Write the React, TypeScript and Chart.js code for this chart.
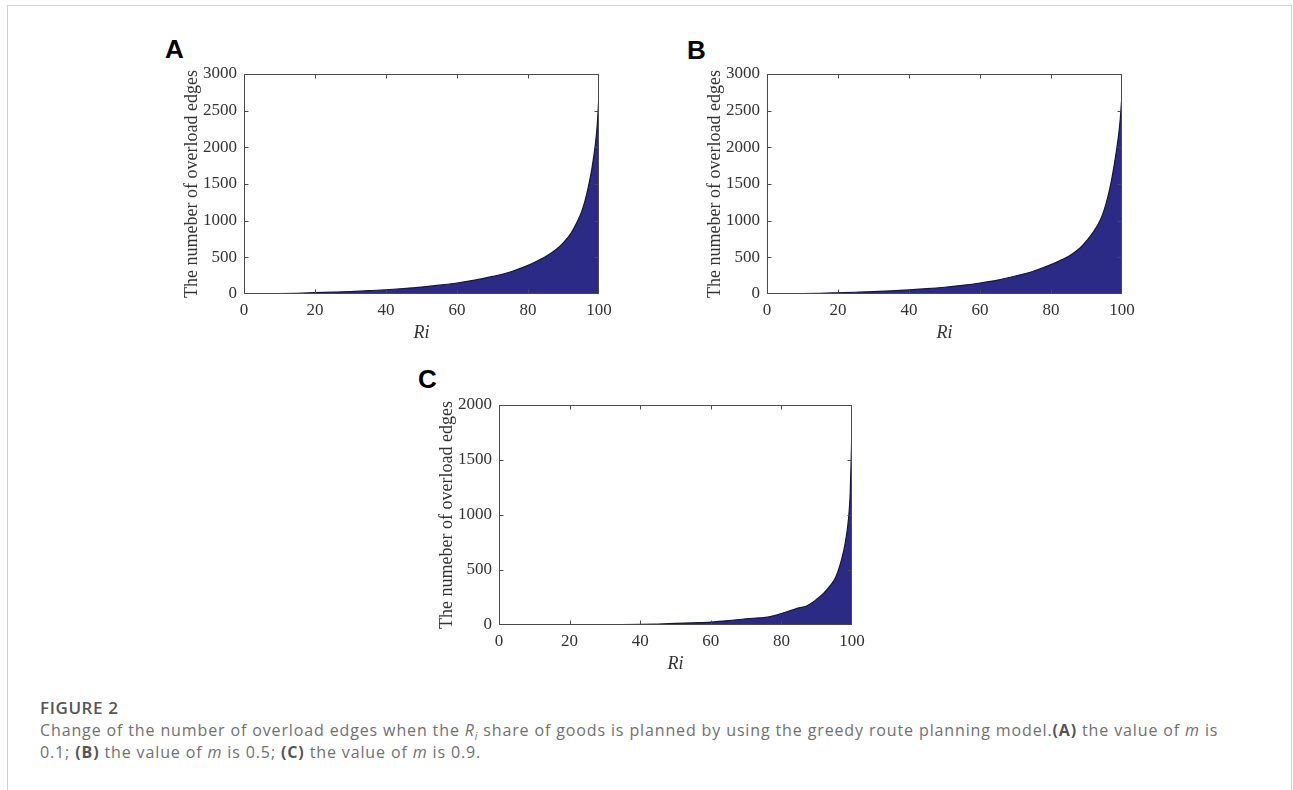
import React, { useEffect, useRef } from "react";
import { Chart, registerables } from "chart.js";

Chart.register(...registerables);

// ---- data ----
const riAB = [0, 5, 10, 15, 20, 25, 30, 35, 40, 45, 50, 55, 60, 65, 70, 75, 80, 83, 85, 88, 90, 92, 94, 95, 96, 97, 98, 99, 99.5, 100];
const edgesA = [0, 2, 5, 10, 18, 25, 33, 45, 58, 75, 95, 120, 150, 190, 240, 300, 390, 460, 510, 610, 700, 820, 1000, 1110, 1260, 1460, 1710, 2050, 2300, 2720];
const edgesB = [0, 2, 5, 10, 17, 24, 32, 43, 56, 72, 92, 118, 150, 190, 245, 310, 400, 465, 515, 620, 725, 850, 1020, 1150, 1320, 1540, 1820, 2150, 2380, 2720];
const riC = [0, 5, 10, 15, 20, 25, 30, 35, 40, 45, 50, 55, 60, 65, 70, 73, 75, 78, 80, 83, 85, 87, 89, 90, 92, 94, 95, 96, 97, 98, 99, 99.5, 100];
const edgesC = [0, 0, 0, 1, 1, 2, 3, 4, 6, 9, 14, 20, 27, 40, 57, 63, 67, 85, 105, 135, 155, 170, 210, 235, 290, 365, 410, 485, 590, 730, 960, 1200, 1800];

const xTicks = [0, 20, 40, 60, 80, 100];
const yTicksAB = [0, 500, 1000, 1500, 2000, 2500, 3000];
const yTicksC = [0, 500, 1000, 1500, 2000];

const Y_TITLE = "The numeber of overload edges";
const X_TITLE = "Ri";

const FILL = "#2b2b86";
const SERIF = "'Liberation Serif', 'Times New Roman', serif";

const framePlugin = {
  id: "frame",
  afterDatasetsDraw(chart: any) {
    const { ctx, chartArea: a, scales } = chart;
    const l = Math.round(a.left) + 0.5;
    const t = Math.round(a.top) + 0.5;
    const r = Math.round(a.right) - 0.5;
    const b = Math.round(a.bottom) - 0.5;
    ctx.save();
    ctx.strokeStyle = "#4a4a4a";
    ctx.lineWidth = 1;
    ctx.strokeRect(l, t, r - l, b - t);
    const L = 4;
    ctx.beginPath();
    scales.x.ticks.forEach((tk: any) => {
      const px = Math.round(scales.x.getPixelForValue(tk.value)) + 0.5;
      if (px > l + 1 && px < r - 1) {
        ctx.moveTo(px, b);
        ctx.lineTo(px, b - L);
        ctx.moveTo(px, t);
        ctx.lineTo(px, t + L);
      }
    });
    scales.y.ticks.forEach((tk: any) => {
      const py = Math.round(scales.y.getPixelForValue(tk.value)) + 0.5;
      if (py > t + 1 && py < b - 1) {
        ctx.moveTo(l, py);
        ctx.lineTo(l + L, py);
        ctx.moveTo(r, py);
        ctx.lineTo(r - L, py);
      }
    });
    ctx.stroke();
    ctx.restore();
  },
};

type PanelProps = {
  xs: number[];
  ys: number[];
  yTicks: number[];
  plotLeft: number;
  plotTop: number;
  plotRight: number;
  plotBottom: number;
};

const Y_AXIS_W = 100;
const X_AXIS_H = 60;
const PAD_TOP = 20;
const PAD_RIGHT = 30;

function Panel({ xs, ys, yTicks, plotLeft, plotTop, plotRight, plotBottom }: PanelProps) {
  const ref = useRef<HTMLCanvasElement | null>(null);
  const cl = plotLeft - Y_AXIS_W;
  const ct = plotTop - PAD_TOP;
  const cw = plotRight + PAD_RIGHT - cl;
  const ch = plotBottom + X_AXIS_H - ct;

  useEffect(() => {
    if (!ref.current) return;
    const chart = new Chart(ref.current, {
      type: "line",
      data: {
        datasets: [
          {
            data: xs.map((x, i) => ({ x, y: ys[i] })),
            fill: "origin",
            backgroundColor: FILL,
            borderColor: "#15153f",
            borderWidth: 1.2,
            pointRadius: 0,
            cubicInterpolationMode: "monotone",
          },
        ],
      },
      options: {
        animation: false,
        responsive: false,
        devicePixelRatio: 1,
        events: [],
        layout: { padding: { top: PAD_TOP, right: PAD_RIGHT, left: 0, bottom: 0 } },
        plugins: { legend: { display: false }, tooltip: { enabled: false }, title: { display: false } },
        scales: {
          x: {
            type: "linear",
            min: xTicks[0],
            max: xTicks[xTicks.length - 1],
            afterBuildTicks: (s: any) => {
              s.ticks = xTicks.map((v) => ({ value: v }));
            },
            afterFit: (s: any) => {
              s.height = X_AXIS_H;
            },
            grid: { display: false, drawTicks: false },
            border: { display: false },
            ticks: {
              padding: 6,
              color: "#333",
              font: { family: SERIF, size: 17 },
              maxRotation: 0,
              autoSkip: false,
              callback: (v: any) => String(v),
            },
            title: {
              display: true,
              text: X_TITLE,
              color: "#333",
              font: { family: SERIF, size: 18, style: "italic" },
              padding: { top: 0, bottom: 10 },
            },
          },
          y: {
            type: "linear",
            min: yTicks[0],
            max: yTicks[yTicks.length - 1],
            afterBuildTicks: (s: any) => {
              s.ticks = yTicks.map((v) => ({ value: v }));
            },
            afterFit: (s: any) => {
              s.width = Y_AXIS_W;
            },
            grid: { display: false, drawTicks: false },
            border: { display: false },
            ticks: {
              padding: 7,
              color: "#333",
              font: { family: SERIF, size: 17 },
              autoSkip: false,
              callback: (v: any) => String(v),
            },
            title: {
              display: true,
              text: Y_TITLE,
              color: "#333",
              font: { family: SERIF, size: 18 },
              padding: { top: 48 - 10.8, bottom: 0 },
            },
          },
        },
      },
      plugins: [framePlugin],
    } as any);
    return () => chart.destroy();
  }, []);

  return (
    <canvas
      ref={ref}
      width={cw}
      height={ch}
      style={{ position: "absolute", left: cl, top: ct, width: cw, height: ch }}
    />
  );
}

const letterStyle: React.CSSProperties = {
  position: "absolute",
  fontFamily: "'Liberation Sans', Arial, sans-serif",
  fontWeight: 700,
  fontSize: 26,
  lineHeight: "26px",
  color: "#000",
};

const boldCap: React.CSSProperties = { color: "#555", fontWeight: 700 };

export default function App() {
  return (
    <div
      style={{
        position: "absolute",
        left: 0,
        top: 0,
        width: 1293,
        height: 790,
        overflow: "hidden",
        background: "#fff",
      }}
    >
      <div
        style={{
          position: "absolute",
          left: 7,
          top: 5,
          width: 1285,
          height: 900,
          border: "1px solid #d2d2d2",
          boxSizing: "border-box",
        }}
      />
      <div style={{ ...letterStyle, left: 165, top: 36 }}>A</div>
      <div style={{ ...letterStyle, left: 687, top: 37 }}>B</div>
      <div style={{ ...letterStyle, left: 418, top: 366 }}>C</div>

      <Panel xs={riAB} ys={edgesA} yTicks={yTicksAB} plotLeft={244} plotTop={74} plotRight={599} plotBottom={294} />
      <Panel xs={riAB} ys={edgesB} yTicks={yTicksAB} plotLeft={767} plotTop={74} plotRight={1122} plotBottom={294} />
      <Panel xs={riC} ys={edgesC} yTicks={yTicksC} plotLeft={499} plotTop={405} plotRight={852} plotBottom={625} />

      <div
        style={{
          position: "absolute",
          left: 40,
          top: 697,
          fontFamily: "'Open Sans', 'Noto Sans', sans-serif",
          fontSize: 16,
          letterSpacing: "0.87px",
          lineHeight: "22px",
          color: "#707070",
          whiteSpace: "nowrap",
        }}
      >
        <div style={{ fontWeight: 600, color: "#555", fontSize: 17, letterSpacing: "0.6px" }}>FIGURE 2</div>
        <div>
          Change of the number of overload edges when the <i>R</i>
          <sub style={{ fontSize: 10, fontStyle: "italic", lineHeight: 0 }}>i</sub> share of goods is planned by using
          the greedy route planning model.<b style={boldCap}>(A)</b> the value of <i>m</i> is
        </div>
        <div>
          0.1; <b style={boldCap}>(B)</b> the value of <i>m</i> is 0.5; <b style={boldCap}>(C)</b> the value of{" "}
          <i>m</i> is 0.9.
        </div>
      </div>
    </div>
  );
}
